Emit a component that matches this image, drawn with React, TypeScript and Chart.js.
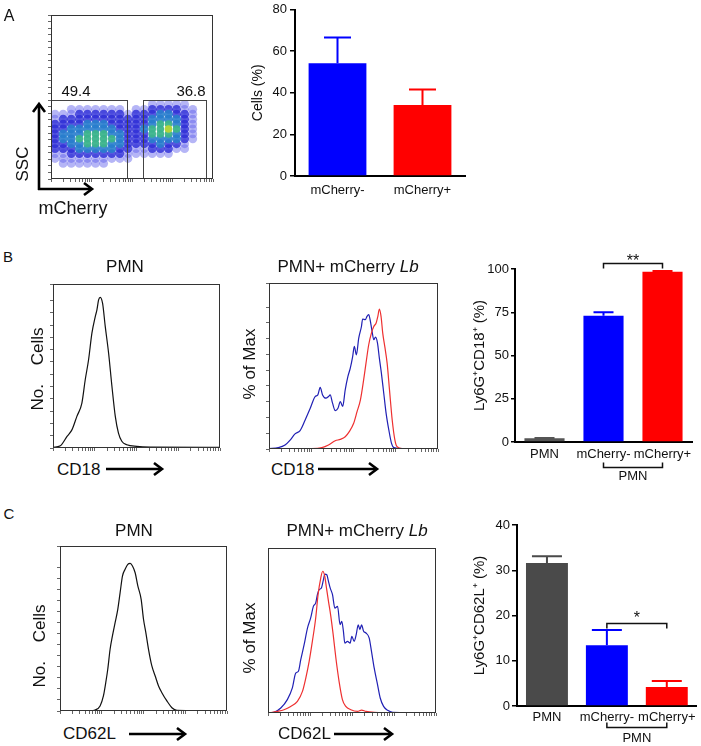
import React, { useEffect, useRef } from 'react';
import { Chart, registerables } from 'chart.js';

Chart.register(...registerables);

const FONT = 'Arial, "Liberation Sans", Helvetica, sans-serif';
Chart.defaults.font.family = FONT;

// ================= DATA =================
// Panel A – flow density plot (density level 0-5 per grid cell, rows listed top -> bottom)
const scatterColumnsX = [2.5, 7.5, 12.5, 17.5, 22.5, 27.5, 32.5, 37.5, 42.5, 47.5, 52.5, 57.5, 62.5, 67.5, 72.5, 77.5, 82.5, 87.5, 92.5, 97.5];
const scatterRowsY = [48.5, 45.5, 42.5, 39.5, 36.5, 33.5, 30.5, 27.5, 24.5, 21.5, 18.5, 15.5, 12.5, 9.5];
const scatterDensity = [
  '00000000000000000000',
  '00000000000011111000',
  '00111111101122221100',
  '11122222212223322100',
  '12222222222233332100',
  '22223332222234432100',
  '22333333222344542100',
  '23334443322244432100',
  '23344444322233332100',
  '22334443322223221000',
  '22233333221122211000',
  '11222222211111100000',
  '11111111110000000000',
  '01111110000000000000',
];
const densityColors = ['', 'rgba(90,90,235,0.45)', 'rgba(45,45,215,0.8)', 'rgba(40,125,205,0.9)', 'rgba(60,180,140,0.95)', '#b2d43c'];
const gateBounds = [
  { x0: 0, x1: 47, y1: 48 },
  { x0: 56.8, x1: 95.7, y1: 48 },
];
const gateLabels = ['49.4', '36.8'];

// Panel A – bar chart
const aCategories = ['mCherry-', 'mCherry+'];
const aMeans = [54.2, 34.1];
const aUpper = [66.5, 41.6];

// Panel B – bar chart
const bCategories = ['PMN', 'mCherry-', 'mCherry+'];
const bMeans = [2.1, 73.0, 98.4];
const bUpper = [2.3, 75.0, 98.9];

// Panel C – bar chart
const cCategories = ['PMN', 'mCherry-', 'mCherry+'];
const cMeans = [31.6, 13.4, 4.2];
const cUpper = [33.1, 16.8, 5.5];

// Histograms: [position along axis (%), height (% of frame)]
const b1PmnCurve: [number, number][] = [[0, 0.4], [4.4, 1.4], [8.4, 7.1], [11.4, 11.2], [14.3, 19.3], [17.3, 27.4], [19.3, 41.6], [21.3, 53.8], [23.3, 70], [25.3, 80.1], [26.3, 84.2], [27.3, 90.3], [28.3, 91.9], [29.7, 88.2], [31.3, 74], [33.3, 57.8], [35.3, 37.5], [37.3, 19.3], [39.2, 9.1], [41.2, 4.1], [44.2, 2], [50.2, 1], [58.2, 0.6], [100, 0.4]];
const b2BlueCurve: [number, number][] = [[0, 0.2], [5.5, 0.8], [9.5, 2.4], [12.5, 5.4], [15.4, 9.1], [18.4, 11.1], [21.4, 17.5], [24.4, 24.5], [27.3, 31.6], [28.9, 32.6], [30.3, 37.2], [31.7, 32.6], [33.7, 30.6], [35.2, 31.6], [36.2, 32.6], [37.6, 27.6], [39.2, 23.1], [40.8, 24.5], [42.2, 28.6], [43.6, 25.6], [45.1, 35.6], [46.7, 43.7], [48.1, 48.7], [49.5, 55.7], [50.5, 61.8], [51.7, 56.7], [53.1, 66.8], [54.7, 73.8], [55.4, 78.3], [57.0, 77.9], [58.0, 79.9], [59.0, 80.9], [60.0, 76.9], [61.0, 70.8], [62.0, 65.8], [63.0, 67.4], [64.2, 63.8], [65.3, 54.7], [66.5, 45.7], [67.9, 33.6], [69.3, 21.5], [70.9, 11.5], [72.5, 3.4], [73.9, 0.8], [78.8, 0.2], [100, 0.2]];
const b2RedCurve: [number, number][] = [[0, 0], [25.3, 0.2], [31.3, 0.8], [35.2, 2.4], [39.2, 5.0], [42.2, 5.8], [45.1, 7.4], [47.5, 10.5], [50.1, 15.5], [52.1, 22.5], [54.1, 29.6], [56.0, 41.6], [57.4, 51.7], [59.0, 62.8], [60.6, 69.8], [62.0, 73.8], [63.4, 75.9], [64.4, 79.9], [65.3, 84.3], [66.3, 79.9], [67.3, 69.8], [68.5, 61.8], [69.9, 51.7], [71.3, 35.6], [72.9, 17.5], [74.5, 5.4], [75.8, 1.4], [78.8, 0.2], [100, 0]];
const c1PmnCurve: [number, number][] = [[0, 0], [17, 0], [21, 0.6], [24, 3.0], [26, 9.1], [27.4, 17.2], [28.6, 25.3], [30, 37.4], [31.4, 45.5], [33, 53.5], [34.6, 61.6], [36, 71.7], [37.4, 81.8], [39, 85.9], [40.6, 88.9], [42, 89.5], [43.4, 87.9], [45, 83.8], [46.6, 75.8], [48.6, 67.7], [50, 55.6], [51.4, 47.5], [53, 37.4], [55, 27.3], [57, 21.2], [59, 15.2], [61, 11.1], [64, 6.1], [67, 2.0], [70, 0.4], [100, 0]];
const c2BlueCurve: [number, number][] = [[0, 0], [3.6, 0.4], [7.6, 3.0], [11.5, 8.1], [14.5, 15.2], [16.5, 24.2], [18.1, 25.3], [19.5, 32.3], [21.5, 41.4], [23.5, 51.5], [25.4, 57.6], [27.0, 64.6], [28.4, 66.7], [29.4, 71.7], [30.4, 74.7], [31.8, 75.8], [33.0, 80.8], [33.8, 84.2], [35.0, 83.8], [36.0, 79.8], [37.0, 75.8], [38.4, 71.7], [39.8, 63.6], [41.4, 64.6], [42.9, 53.5], [43.9, 55.6], [44.9, 49.5], [45.7, 42.4], [47.3, 43.4], [48.9, 42.4], [49.9, 46.5], [51.3, 43.4], [52.5, 47.5], [53.7, 53.5], [54.7, 50.5], [55.7, 53.5], [56.9, 49.5], [58.3, 48.5], [60.2, 45.5], [61.6, 37.4], [63.2, 27.3], [65.2, 17.2], [66.8, 9.1], [68.8, 4.0], [71.2, 1.6], [74.2, 0.4], [100, 0]];
const c2RedCurve: [number, number][] = [[0, 0], [5.6, 1.0], [9.5, 2.0], [13.5, 4.0], [17.5, 7.1], [20.5, 13.1], [22.5, 21.2], [24.5, 31.3], [26.4, 43.4], [28.4, 57.6], [29.8, 71.7], [31.4, 81.8], [32.6, 85.9], [33.8, 82.8], [34.8, 75.8], [36.0, 67.7], [37.4, 58.6], [38.8, 47.5], [40.4, 33.3], [42.3, 19.2], [44.3, 8.1], [46.3, 4.0], [49.3, 2.0], [53.3, 1.0], [55.7, 1.8], [58.3, 1.0], [63.2, 0.4], [71.2, 0.2], [100, 0]];

// ================= HELPERS =================
const histTickValues: number[] = [];
for (let d = 0; d < 4; d++) for (let k = 1; k < 10; k++) histTickValues.push(25 * d + 25 * Math.log10(k));
histTickValues.push(100);

type Area = { l: number; t: number; r: number; b: number };

const framePlugin = {
  id: 'frameBox',
  afterDatasetsDraw(chart: any) {
    const { ctx, chartArea: a } = chart;
    ctx.save();
    ctx.strokeStyle = '#333';
    ctx.lineWidth = 1;
    ctx.strokeRect(a.left + 0.5, a.top + 0.5, a.right - a.left - 1, a.bottom - a.top - 1);
    ctx.restore();
  },
};

const gatePlugin = {
  id: 'gates',
  afterDatasetsDraw(chart: any) {
    const { ctx, scales } = chart;
    const x = scales.x;
    const y = scales.y;
    ctx.save();
    ctx.strokeStyle = '#444';
    ctx.lineWidth = 1;
    gateBounds.forEach((g) => {
      const l = Math.round(x.getPixelForValue(g.x0)) + 0.5;
      const r = Math.round(x.getPixelForValue(g.x1)) + 0.5;
      const t = Math.round(y.getPixelForValue(g.y1)) + 0.5;
      const b = Math.round(y.getPixelForValue(0)) - 0.5;
      ctx.strokeRect(l, t, r - l, b - t);
    });
    ctx.restore();
  },
};

function errorBarPlugin(upper: number[], colors: string[], capWidth: number) {
  return {
    id: 'errorBars',
    afterDatasetsDraw(chart: any) {
      const meta = chart.getDatasetMeta(0);
      const y = chart.scales.y;
      const ctx = chart.ctx;
      ctx.save();
      ctx.lineWidth = 2;
      meta.data.forEach((bar: any, i: number) => {
        const top = y.getPixelForValue(upper[i]);
        ctx.strokeStyle = colors[i];
        ctx.beginPath();
        ctx.moveTo(bar.x, bar.y);
        ctx.lineTo(bar.x, top);
        ctx.moveTo(bar.x - capWidth / 2, top);
        ctx.lineTo(bar.x + capWidth / 2, top);
        ctx.stroke();
      });
      ctx.restore();
    },
  };
}

function sigBracketPlugin(from: number, to: number, value: number, label: string, drop: number, starBaseline: number) {
  return {
    id: 'sigBracket',
    afterDatasetsDraw(chart: any) {
      const { ctx, scales } = chart;
      const x1 = scales.x.getPixelForValue(from);
      const x2 = scales.x.getPixelForValue(to);
      const yy = Math.round(scales.y.getPixelForValue(value)) + 0.5;
      ctx.save();
      ctx.strokeStyle = '#111';
      ctx.lineWidth = 1.5;
      ctx.beginPath();
      ctx.moveTo(x1, yy + drop);
      ctx.lineTo(x1, yy);
      ctx.lineTo(x2, yy);
      ctx.lineTo(x2, yy + drop);
      ctx.stroke();
      ctx.fillStyle = '#111';
      ctx.font = `16px ${FONT}`;
      ctx.textAlign = 'center';
      ctx.textBaseline = 'alphabetic';
      ctx.fillText(label, (x1 + x2) / 2, yy + starBaseline);
      ctx.restore();
    },
  };
}

function groupBracketPlugin(from: number, to: number, offset: number, rise: number, label: string, labelOffset: number) {
  return {
    id: 'groupBracket',
    afterDraw(chart: any) {
      const { ctx, scales, chartArea } = chart;
      const x1 = scales.x.getPixelForValue(from);
      const x2 = scales.x.getPixelForValue(to);
      const yy = Math.round(chartArea.bottom + offset) + 0.5;
      ctx.save();
      ctx.strokeStyle = '#111';
      ctx.lineWidth = 1.5;
      ctx.beginPath();
      ctx.moveTo(x1, yy - rise);
      ctx.lineTo(x1, yy);
      ctx.lineTo(x2, yy);
      ctx.lineTo(x2, yy - rise);
      ctx.stroke();
      ctx.fillStyle = '#111';
      ctx.font = `13px ${FONT}`;
      ctx.textAlign = 'center';
      ctx.textBaseline = 'middle';
      ctx.fillText(label, (x1 + x2) / 2, chartArea.bottom + labelOffset);
      ctx.restore();
    },
  };
}

function makeBarConfig(p: any) {
  return {
    type: 'bar',
    data: {
      labels: p.labels,
      datasets: [{ data: p.values, backgroundColor: p.colors, borderWidth: 0, barPercentage: p.barPct, categoryPercentage: 1 }],
    },
    options: {
      responsive: false,
      animation: false,
      layout: { padding: { top: p.area.t, right: p.w - p.area.r, left: 0, bottom: 0 } },
      plugins: { legend: { display: false }, tooltip: { enabled: false }, title: { display: false } },
      scales: {
        x: {
          grid: { display: false, drawTicks: false },
          border: { display: true, color: '#000', width: 2 },
          ticks: { color: '#111', font: { family: FONT, size: 13, lineHeight: 1 }, padding: p.xPad, autoSkip: false, maxRotation: 0, minRotation: 0 },
          afterFit: (s: any) => { s.height = p.h - p.area.b; },
        },
        y: {
          min: 0,
          max: p.yMax,
          grid: { display: true, drawOnChartArea: false, drawTicks: true, tickLength: p.yTickLen, color: '#000', lineWidth: 1.5 },
          border: { display: true, color: '#000', width: 2 },
          ticks: { stepSize: p.yStep, color: '#111', font: { family: FONT, size: 13, lineHeight: 1 }, padding: p.yPad },
          title: { display: true, text: p.yTitle, color: '#111', font: { family: FONT, size: p.titleSize, lineHeight: 1.2 }, padding: { top: p.titlePad, bottom: 0 } },
          afterFit: (s: any) => { s.width = p.area.l; },
        },
      },
    },
    plugins: p.plugins,
  };
}

function makeHistConfig(w: number, h: number, area: Area, curves: { points: [number, number][]; color: string }[], yStep: number | null) {
  return {
    type: 'line',
    data: {
      datasets: curves.map((c) => ({
        data: c.points.map(([x, y]) => ({ x, y })),
        borderColor: c.color,
        borderWidth: 1.2,
        pointRadius: 0,
        cubicInterpolationMode: 'monotone',
        fill: false,
      })),
    },
    options: {
      responsive: false,
      animation: false,
      layout: { padding: { top: area.t, right: w - area.r, left: 0, bottom: 0 } },
      plugins: { legend: { display: false }, tooltip: { enabled: false } },
      scales: {
        x: {
          type: 'linear',
          min: 0,
          max: 100,
          grid: { display: true, drawOnChartArea: false, drawTicks: true, tickLength: 3, color: '#666', lineWidth: 1 },
          border: { display: false },
          ticks: { display: false },
          afterBuildTicks: (s: any) => { s.ticks = histTickValues.map((v) => ({ value: v })); },
          afterFit: (s: any) => { s.height = h - area.b; },
        },
        y: {
          type: 'linear',
          min: 0,
          max: 100,
          grid: { display: yStep !== null, drawOnChartArea: false, drawTicks: true, tickLength: 3, color: '#666', lineWidth: 1 },
          border: { display: false },
          ticks: { display: false, stepSize: yStep || 10 },
          afterFit: (s: any) => { s.width = area.l; },
        },
      },
    },
    plugins: [framePlugin],
  };
}

function makeScatterConfig(w: number, h: number, area: Area) {
  const cells: { x: number; y: number; level: number }[] = [];
  scatterDensity.forEach((row, r) => {
    row.split('').forEach((ch, c) => {
      const level = Number(ch);
      if (level > 0) cells.push({ x: scatterColumnsX[c], y: scatterRowsY[r], level });
    });
  });
  cells.sort((a, b) => a.level - b.level);
  return {
    type: 'scatter',
    data: {
      datasets: [{
        data: cells.map((c) => ({ x: c.x, y: c.y })),
        backgroundColor: cells.map((c) => densityColors[c.level]),
        pointRadius: cells.map((c) => (c.level >= 4 ? 3.8 : 4.4)),
        pointBorderWidth: 0,
        borderWidth: 0,
        pointStyle: 'circle',
      }],
    },
    options: {
      responsive: false,
      animation: false,
      layout: { padding: { top: area.t, right: w - area.r, left: 0, bottom: 0 } },
      plugins: { legend: { display: false }, tooltip: { enabled: false } },
      scales: {
        x: {
          type: 'linear', min: 0, max: 100,
          grid: { display: true, drawOnChartArea: false, drawTicks: true, tickLength: 3, color: '#666' },
          border: { display: false },
          ticks: { display: false },
          afterBuildTicks: (s: any) => { s.ticks = histTickValues.map((v) => ({ value: v })); },
          afterFit: (s: any) => { s.height = h - area.b; },
        },
        y: {
          type: 'linear', min: 0, max: 100,
          grid: { display: true, drawOnChartArea: false, drawTicks: true, tickLength: 3, color: '#666' },
          border: { display: false },
          ticks: { display: false, stepSize: 4 },
          afterFit: (s: any) => { s.width = area.l; },
        },
      },
    },
    plugins: [gatePlugin, framePlugin],
  };
}

function ChartCanvas({ left, top, width, height, make }: { left: number; top: number; width: number; height: number; make: () => any }) {
  const ref = useRef<HTMLCanvasElement>(null);
  useEffect(() => {
    const chart = new Chart(ref.current as HTMLCanvasElement, make());
    return () => chart.destroy();
  }, []);
  return <canvas ref={ref} width={width} height={height} style={{ position: 'absolute', left, top, width, height }} />;
}

function Txt({ x, y, size, text, rotate, left, italicTail }: { x: number; y: number; size: number; text: string; rotate?: boolean; left?: boolean; italicTail?: string }) {
  const boxH = size % 2 === 0 ? size : size + 1;
  const boxW = 160;
  const top = Math.round(y - boxH / 2);
  const style: React.CSSProperties = {
    position: 'absolute',
    top,
    height: boxH,
    lineHeight: `${boxH}px`,
    fontSize: size,
    whiteSpace: 'pre',
    fontFamily: FONT,
    color: '#111',
  };
  if (left) {
    style.left = Math.round(x);
  } else {
    style.left = Math.round(x - boxW / 2);
    style.width = boxW;
    style.textAlign = 'center';
    if (rotate) style.transform = 'rotate(-90deg)';
  }
  return (
    <div style={style}>
      {text}
      {italicTail ? <i>{italicTail}</i> : null}
    </div>
  );
}

function Arrow({ x1, y1, x2, y2 }: { x1: number; y1: number; x2: number; y2: number }) {
  const len = Math.hypot(x2 - x1, y2 - y1);
  const ux = (x2 - x1) / len;
  const uy = (y2 - y1) / len;
  const hl = 8;
  const hw = 6;
  const bx = x2 - ux * hl;
  const by = y2 - uy * hl;
  const p1 = `${bx - uy * hw},${by + ux * hw}`;
  const p2 = `${bx + uy * hw},${by - ux * hw}`;
  return (
    <g stroke="#000" strokeWidth={2.6} fill="none">
      <line x1={x1} y1={y1} x2={x2 - ux * 1.5} y2={y2 - uy * 1.5} />
      <polyline points={`${p1} ${x2},${y2} ${p2}`} strokeLinejoin="miter" />
    </g>
  );
}

export default function App() {
  return (
    <div style={{ position: 'absolute', left: 0, top: 0, width: 701, height: 746, background: '#fff', overflow: 'hidden', fontFamily: FONT }}>
      {/* Panel A */}
      <ChartCanvas left={40} top={5} width={185} height={185} make={() => makeScatterConfig(185, 185, { l: 11, t: 10, r: 173, b: 174 })} />
      <ChartCanvas
        left={245} top={0} width={225} height={205}
        make={() => makeBarConfig({
          labels: aCategories, values: aMeans, colors: ['#0000ff', '#ff0000'], barPct: 0.68,
          w: 225, h: 205, area: { l: 50, t: 7, r: 220, b: 176 },
          yMax: 80, yStep: 20, yTickLen: 5, yPad: 3, xPad: 8, yTitle: 'Cells (%)', titleSize: 14, titlePad: 5,
          plugins: [errorBarPlugin(aUpper, ['#0000ff', '#ff0000'], 27)],
        })}
      />
      {/* Panel B */}
      <ChartCanvas left={40} top={275} width={190} height={185} make={() => makeHistConfig(190, 185, { l: 13, t: 9, r: 180, b: 173 }, [{ points: b1PmnCurve, color: '#111' }], 7.5)} />
      <ChartCanvas left={255} top={275} width={195} height={185} make={() => makeHistConfig(195, 185, { l: 14, t: 8, r: 183, b: 174 }, [{ points: b2RedCurve, color: '#ee3030' }, { points: b2BlueCurve, color: '#2020b4' }], 9.5)} />
      <ChartCanvas
        left={465} top={240} width={236} height={250}
        make={() => makeBarConfig({
          labels: bCategories, values: bMeans, colors: ['#555555', '#0000ff', '#ff0000'], barPct: 0.68,
          w: 236, h: 250, area: { l: 50, t: 29, r: 227, b: 202 },
          yMax: 100, yStep: 25, yTickLen: 4, yPad: 2, xPad: 6, yTitle: 'Ly6G\u207ACD18\u207A (%)', titleSize: 15, titlePad: 6,
          plugins: [
            errorBarPlugin(bUpper, ['#555555', '#0000ff', '#ff0000'], 20),
            sigBracketPlugin(1, 2, 103.5, '**', 5, 2),
            groupBracketPlugin(1, 2, 25, 5, 'PMN', 34),
          ],
        })}
      />
      {/* Panel C */}
      <ChartCanvas left={45} top={538} width={190} height={185} make={() => makeHistConfig(190, 185, { l: 15, t: 8, r: 182, b: 173 }, [{ points: c1PmnCurve, color: '#111' }], 6.67)} />
      <ChartCanvas left={255} top={540} width={195} height={185} make={() => makeHistConfig(195, 185, { l: 13, t: 8, r: 181, b: 173 }, [{ points: c2RedCurve, color: '#ee3030' }, { points: c2BlueCurve, color: '#2020b4' }], null)} />
      <ChartCanvas
        left={465} top={500} width={236} height={246}
        make={() => makeBarConfig({
          labels: cCategories, values: cMeans, colors: ['#4a4a4a', '#0000ff', '#ff0000'], barPct: 0.7,
          w: 236, h: 246, area: { l: 52, t: 25, r: 233, b: 206 },
          yMax: 40, yStep: 10, yTickLen: 5, yPad: 2, xPad: 5, yTitle: 'Ly6G\u207ACD62L\u207A (%)', titleSize: 15, titlePad: 6,
          plugins: [
            errorBarPlugin(cUpper, ['#4a4a4a', '#0000ff', '#ff0000'], 30),
            sigBracketPlugin(1, 2, 18.3, '*', 5, -1),
            groupBracketPlugin(1, 2, 21, 5, 'PMN', 32),
          ],
        })}
      />

      {/* Text */}
      <Txt x={9} y={16} size={16} text="A" />
      <Txt x={8} y={257} size={15} text="B" />
      <Txt x={9} y={514} size={15} text="C" />
      <Txt x={76} y={91} size={15} text={gateLabels[0]} />
      <Txt x={191} y={91} size={15} text={gateLabels[1]} />
      <Txt x={23} y={164} size={17} text="SSC" rotate />
      <Txt x={73} y={208} size={18} text="mCherry" />

      <Txt x={125} y={267} size={17} text="PMN" />
      <Txt x={348} y={267} size={17} text="PMN+ mCherry " italicTail="Lb" />
      <Txt x={38} y={369} size={17} text={'No.    Cells'} rotate />
      <Txt x={250} y={364} size={17} text="% of Max" rotate />
      <Txt x={57} y={470} size={17} text="CD18" left />
      <Txt x={271} y={470} size={17} text="CD18" left />

      <Txt x={134} y={531} size={17} text="PMN" />
      <Txt x={357} y={531} size={17} text="PMN+ mCherry " italicTail="Lb" />
      <Txt x={40} y={646} size={17} text={'No.    Cells'} rotate />
      <Txt x={250} y={638} size={17} text="% of Max" rotate />
      <Txt x={63} y={734} size={17} text="CD62L" left />
      <Txt x={278} y={734} size={17} text="CD62L" left />

      <svg width={701} height={746} style={{ position: 'absolute', left: 0, top: 0, pointerEvents: 'none' }}>
        <Arrow x1={39} y1={190} x2={39} y2={104} />
        <Arrow x1={38} y1={189} x2={92} y2={189} />
        <Arrow x1={106} y1={469} x2={162} y2={469} />
        <Arrow x1={318} y1={469} x2={377} y2={469} />
        <Arrow x1={129} y1={734} x2={185} y2={734} />
        <Arrow x1={334} y1={734} x2={392} y2={734} />
      </svg>
    </div>
  );
}
